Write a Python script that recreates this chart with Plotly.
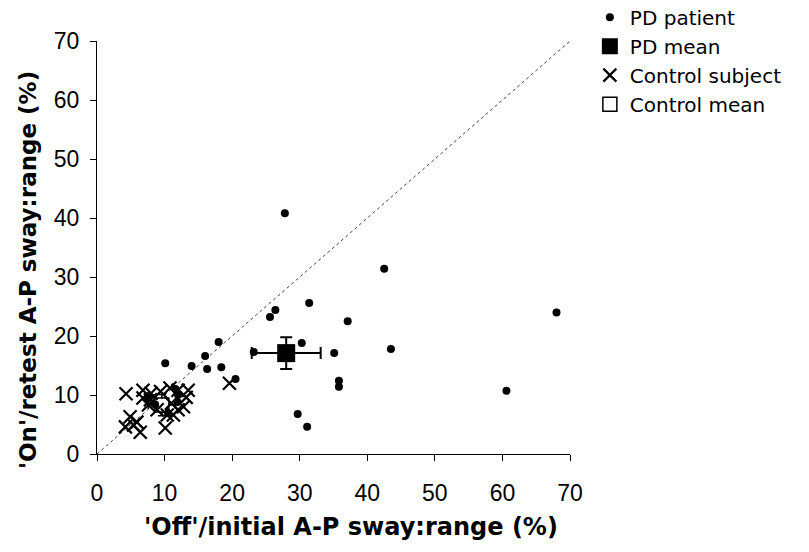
import plotly.graph_objects as go

# PD patients: 'Off'/initial vs 'On'/retest
pd_x = [27.8, 42.5, 68.0, 31.4, 26.4, 25.6, 37.1, 43.5, 60.6, 35.1, 35.8, 35.8,
        29.7, 31.1, 30.3, 23.2, 18.0, 16.0, 16.3, 18.4, 20.5, 10.1, 14.0,
        11.6, 11.9, 10.5, 7.6, 8.6, 12.0]
pd_y = [40.8, 31.4, 24.0, 25.6, 24.4, 23.2, 22.5, 17.8, 10.7, 17.1, 12.4, 11.4,
        6.8, 4.6, 18.8, 17.3, 19.0, 16.6, 14.4, 14.7, 12.7, 15.4, 14.9,
        11.0, 8.8, 6.9, 9.6, 8.4, 10.0]

# Control subjects
ct_x = [4.3, 6.8, 8.0, 10.8, 12.0, 13.5, 12.8, 12.0, 10.1, 10.4, 4.9, 4.2,
        5.4, 6.4, 5.9, 7.6, 7.9, 8.9, 6.8, 11.0, 11.3, 19.6, 9.4, 13.2]
ct_y = [10.2, 10.8, 10.3, 11.2, 10.8, 10.8, 8.0, 7.5, 4.4, 6.6, 6.3, 4.6,
        4.9, 3.7, 5.4, 8.3, 9.2, 7.5, 9.5, 8.6, 6.6, 12.0, 10.6, 9.6]

# Group means and error bar half-widths
pd_mean_x, pd_mean_y = [28.0], [17.1]
pd_err_x, pd_err_y = [5.1], [2.7]
ct_mean_x, ct_mean_y = [9.6], [8.3]
ct_err_x, ct_err_y = [2.0], [1.8]

axis_ticks = [0, 10, 20, 30, 40, 50, 60, 70]
x_title = "'Off'/initial A-P sway:range (%)"
y_title = "'On'/retest A-P sway:range (%)"

FONT = "Liberation Sans, Arial, sans-serif"
WIDE = "DejaVu Sans, Liberation Sans, sans-serif"

fig = go.Figure()

fig.add_trace(go.Scatter(
    x=[0, 70], y=[0, 70], mode="lines", showlegend=False, hoverinfo="skip",
    line=dict(color="#444444", width=1, dash="dot")))

fig.add_trace(go.Scatter(
    x=ct_mean_x, y=ct_mean_y, mode="markers", name="Control mean",
    legendrank=4,
    marker=dict(symbol="square", size=14, color="white",
                line=dict(color="black", width=1.5)),
    error_x=dict(type="data", array=ct_err_x, color="black", thickness=1.5, width=4),
    error_y=dict(type="data", array=ct_err_y, color="black", thickness=1.5, width=4)))

fig.add_trace(go.Scatter(
    x=ct_x, y=ct_y, mode="markers", name="Control subject",
    legendrank=3,
    marker=dict(symbol="x-thin", size=13, color="black",
                line=dict(color="black", width=2.2))))

fig.add_trace(go.Scatter(
    x=pd_x, y=pd_y, mode="markers", name="PD patient",
    legendrank=1,
    marker=dict(symbol="circle", size=8, color="black")))

fig.add_trace(go.Scatter(
    x=pd_mean_x, y=pd_mean_y, mode="markers", name="PD mean",
    legendrank=2,
    marker=dict(symbol="square", size=18, color="black"),
    error_x=dict(type="data", array=pd_err_x, color="black", thickness=2, width=6),
    error_y=dict(type="data", array=pd_err_y, color="black", thickness=2, width=6)))

fig.update_layout(
    width=809, height=552,
    margin=dict(l=97, r=239, t=41, b=98, autoexpand=False),
    paper_bgcolor="white", plot_bgcolor="white",
    font=dict(family=FONT, size=22, color="black"),
    legend=dict(x=1.042, y=1.105, xanchor="left", yanchor="top",
                font=dict(size=20, family=WIDE), itemsizing="trace",
                tracegroupgap=0, bgcolor="rgba(0,0,0,0)", traceorder="normal"),
    xaxis=dict(range=[0, 70], tickvals=axis_ticks, showgrid=False, zeroline=False,
               showline=True, linecolor="black", linewidth=1,
               ticks="outside", ticklen=6, tickcolor="black",
               ticklabelstandoff=12, tickfont=dict(size=23, family=FONT)),
    yaxis=dict(range=[0, 70], tickvals=axis_ticks, showgrid=False, zeroline=False,
               showline=True, linecolor="black", linewidth=1,
               ticks="outside", ticklen=6, tickcolor="black",
               ticklabelstandoff=6, tickfont=dict(size=23, family=FONT)),
    annotations=[
        dict(text="<b>" + x_title + "</b>", xref="paper", yref="paper",
             x=(351 - 97) / 473, y=(454 - 527) / 413, xanchor="center", yanchor="middle",
             showarrow=False, font=dict(size=24, family=WIDE)),
        dict(text="<b>" + y_title + "</b>", xref="paper", yref="paper",
             x=(28 - 97) / 473, y=(454 - 270) / 413, xanchor="center", yanchor="middle",
             textangle=-90, showarrow=False, font=dict(size=23, family=WIDE)),
    ],
)

fig.write_html("out.html")
